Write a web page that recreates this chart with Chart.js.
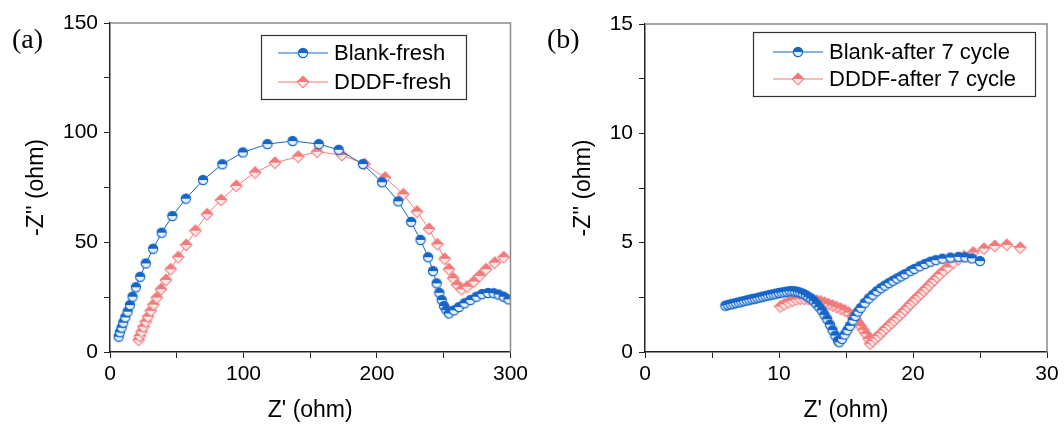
<!DOCTYPE html>
<html>
<head>
<meta charset="utf-8">
<script src="https://cdn.jsdelivr.net/npm/chart.js@4/dist/chart.umd.min.js"></script>
<style>
html, body { margin: 0; padding: 0; background: #fff; }
#wrap { position: relative; width: 1064px; height: 427px; }
canvas { position: absolute; top: 0; }
</style>
</head>
<body>
<div id="wrap">
    <canvas id="chartA" width="532" height="427" style="left:0;width:532px;height:427px"></canvas>
    <canvas id="chartB" width="532" height="427" style="left:532px;width:532px;height:427px"></canvas>
</div>
<script>
// dados painel (a) - fresh
const blankFreshX = [6.5, 7.4, 8.7, 9.9, 11.4, 13.2, 14.9, 16.9, 19.4, 22.6, 26.8, 32.3, 38.7, 46.7, 56.8, 69.7, 84.1, 99.5, 117.9, 136.8,
    156.4, 171.3, 189.4, 203.8, 215.9, 225.6, 232.6, 238.3, 242.0, 244.7, 246.7, 248.5, 250.2, 252.0, 253.9, 257.6, 261.4, 265.6, 270.0, 274.5,
    278.7, 283.2, 287.4, 291.1, 294.9, 298.5];
const blankFreshY = [7.0, 9.0, 11.1, 13.4, 15.8, 18.4, 21.4, 25.2, 29.5, 34.3, 40.4, 47.1, 54.4, 62.0, 69.9, 78.4, 85.6, 91.0, 94.8, 96.2,
    94.8, 92.2, 85.7, 77.4, 68.7, 59.3, 51.1, 43.2, 36.9, 31.3, 27.0, 23.7, 21.0, 19.2, 17.6, 19.0, 20.5, 22.2, 23.7, 25.2,
    26.4, 26.9, 26.8, 26.2, 25.2, 24.0];
const dddfFreshX = [21.4, 22.3, 23.6, 25.1, 26.8, 28.5, 30.5, 32.5, 35.0, 38.2, 41.9, 45.4, 51.1, 57.1, 64.0, 72.7, 83.2, 94.6, 108.7, 123.6,
    141.0, 155.1, 173.7, 190.6, 206.0, 219.7, 229.9, 239.0, 245.2, 250.7, 253.9, 257.1, 260.1, 263.4, 267.5, 272.5, 276.8, 281.7, 288.2, 294.9];
const dddfFreshY = [5.5, 7.3, 9.3, 11.5, 13.8, 16.1, 18.8, 21.6, 24.8, 28.6, 32.8, 37.7, 43.2, 48.8, 55.3, 62.8, 69.3, 75.7, 81.8, 86.3,
    89.1, 91.3, 89.8, 85.7, 79.5, 71.9, 64.0, 56.1, 49.1, 42.5, 37.7, 33.6, 30.6, 28.6, 29.8, 32.1, 34.7, 37.7, 40.7, 43.2];

// dados painel (b) - after 7 cycle
const blankCycleX = [6.0, 6.2, 6.4, 6.6, 6.8, 7.0, 7.2, 7.4, 7.6, 7.8, 8.0, 8.2, 8.4, 8.6, 8.8, 9.0, 9.2, 9.4, 9.6, 9.8, 10.0, 10.2, 10.4, 10.6, 10.8, 11.0,
    11.2, 11.4, 11.6, 11.8, 12.0, 12.2, 12.4, 12.6, 12.8, 13.0, 13.2, 13.4, 13.6, 13.8, 14.0, 14.2, 14.4, 14.5,
    14.7, 14.9, 15.1, 15.3, 15.5, 15.7, 15.9, 16.1, 16.4, 16.7, 17.0, 17.3, 17.6, 17.9, 18.2, 18.5, 18.8, 19.1, 19.4,
    19.8, 20.1, 20.5, 20.9, 21.3, 21.7, 22.2, 22.8, 23.4, 23.9, 24.4, 25.0];
const blankCycleY = [2.12, 2.15, 2.18, 2.21, 2.24, 2.27, 2.30, 2.33, 2.36, 2.39, 2.42, 2.44, 2.47, 2.50, 2.53, 2.56, 2.59, 2.62, 2.64, 2.67, 2.70, 2.72, 2.74, 2.76, 2.78, 2.78,
    2.77, 2.75, 2.71, 2.66, 2.60, 2.52, 2.44, 2.33, 2.20, 2.05, 1.90, 1.70, 1.50, 1.25, 1.00, 0.75, 0.52, 0.45,
    0.60, 0.80, 1.00, 1.20, 1.45, 1.65, 1.85, 2.02, 2.25, 2.45, 2.62, 2.78, 2.92, 3.04, 3.15, 3.26, 3.36, 3.46, 3.56,
    3.70, 3.80, 3.92, 4.03, 4.13, 4.20, 4.27, 4.32, 4.35, 4.33, 4.28, 4.16];
const dddfCycleX = [10.1, 10.4, 10.7, 11.0, 11.3, 11.6, 11.9, 12.2, 12.5, 12.8, 13.1, 13.4, 13.7, 14.0, 14.3, 14.6, 14.9, 15.2, 15.5,
    15.7, 15.9, 16.1, 16.3, 16.5, 16.7, 16.8,
    17.0, 17.2, 17.4, 17.6, 17.8, 18.0, 18.2, 18.4, 18.6, 18.8, 19.0, 19.2, 19.4, 19.6, 19.8, 20.0, 20.2, 20.4, 20.6, 20.8,
    21.0, 21.2, 21.4, 21.6, 21.8, 22.0, 22.3, 22.6, 23.0, 23.4, 23.8, 24.5, 25.3, 26.1, 27.0, 28.0];
const dddfCycleY = [2.08, 2.18, 2.27, 2.34, 2.40, 2.43, 2.43, 2.42, 2.39, 2.35, 2.31, 2.25, 2.18, 2.12, 2.05, 1.98, 1.90, 1.80, 1.65,
    1.50, 1.35, 1.18, 1.00, 0.82, 0.60, 0.38,
    0.50, 0.62, 0.73, 0.85, 0.98, 1.10, 1.22, 1.33, 1.44, 1.55, 1.68, 1.80, 1.93, 2.06, 2.19, 2.31, 2.43, 2.55, 2.67, 2.80,
    2.92, 3.05, 3.18, 3.30, 3.43, 3.55, 3.71, 3.87, 4.09, 4.25, 4.37, 4.55, 4.73, 4.85, 4.90, 4.77];

// ticks com rotulo
const xTicksA = [0, 100, 200, 300];
const yTicksA = [0, 50, 100, 150];
const xTicksB = [0, 10, 20, 30];
const yTicksB = [0, 5, 10, 15];

const azul = '#1666c8';
const vermelho = '#f07b7b';
const fonte = "'Liberation Sans', Arial, sans-serif";

function pontos(xs, ys) {
    return xs.map((x, i) => ({ x: x, y: ys[i] }));
}

// marcador meio cheio (circulo)
function bolinha(cor, fundo) {
    const c = document.createElement('canvas');
    c.width = 12; c.height = 12;
    const g = c.getContext('2d');
    g.fillStyle = fundo;
    g.beginPath(); g.arc(6, 6, 4.6, 0, Math.PI * 2); g.fill();
    g.fillStyle = cor;
    g.beginPath(); g.arc(6, 6, 4.6, Math.PI, Math.PI * 2); g.closePath(); g.fill();
    g.strokeStyle = cor; g.lineWidth = 1.2;
    g.beginPath(); g.arc(6, 6, 4.6, 0, Math.PI * 2); g.stroke();
    return c;
}

// marcador meio cheio (losango)
function losango(cor, fundo) {
    const c = document.createElement('canvas');
    c.width = 14; c.height = 14;
    const g = c.getContext('2d');
    g.beginPath();
    g.moveTo(7, 1.2); g.lineTo(12.8, 7); g.lineTo(7, 12.8); g.lineTo(1.2, 7); g.closePath();
    g.fillStyle = fundo; g.fill();
    g.beginPath();
    g.moveTo(7, 1.2); g.lineTo(12.8, 7); g.lineTo(1.2, 7); g.closePath();
    g.fillStyle = cor; g.fill();
    g.beginPath();
    g.moveTo(7, 1.2); g.lineTo(12.8, 7); g.lineTo(7, 12.8); g.lineTo(1.2, 7); g.closePath();
    g.strokeStyle = cor; g.lineWidth = 1.1; g.stroke();
    return c;
}

const marcaAzul = bolinha(azul, '#e6effa');
const marcaVermelha = losango(vermelho, '#fdeaea');

// moldura, rotulo do painel e legenda
function painelPlugin(nome, rotulo, rotX, caixa, itens) {
    return {
        id: nome,
        afterDraw(chart) {
            const ctx = chart.ctx;
            const a = chart.chartArea;
            ctx.save();
            ctx.strokeStyle = '#8a8a8a';
            ctx.lineWidth = 1.5;
            ctx.beginPath();
            ctx.moveTo(a.left, a.top);
            ctx.lineTo(a.right, a.top);
            ctx.lineTo(a.right, a.bottom);
            ctx.stroke();

            ctx.fillStyle = '#000';
            ctx.font = "28px 'Liberation Serif', 'Times New Roman', serif";
            ctx.textBaseline = 'alphabetic';
            ctx.textAlign = 'left';
            ctx.fillText(rotulo, rotX, 48);

            ctx.strokeStyle = '#333';
            ctx.lineWidth = 1.2;
            ctx.strokeRect(caixa.x + 0.5, caixa.y + 0.5, caixa.w, caixa.h);

            ctx.font = '22px ' + fonte;
            ctx.textBaseline = 'middle';
            itens.forEach(it => {
                ctx.strokeStyle = it.cor;
                ctx.lineWidth = 1;
                ctx.beginPath();
                ctx.moveTo(caixa.lx, it.y);
                ctx.lineTo(caixa.lx + 50, it.y);
                ctx.stroke();
                const m = it.marca;
                ctx.drawImage(m, caixa.lx + 25 - m.width / 2, it.y - m.height / 2);
                ctx.fillStyle = '#000';
                ctx.fillText(it.texto, caixa.lx + 56, it.y + 1);
            });
            ctx.restore();
        }
    };
}

function eixos(xMax, xStep, xLab, yMax, yStep, yLab, yWidth, yTitlePad) {
    return {
        x: {
            type: 'linear', min: 0, max: xMax,
            ticks: {
                stepSize: xStep, autoSkip: false, maxRotation: 0, color: '#000', padding: 4,
                font: { size: 21, family: fonte },
                callback: v => xLab.includes(v) ? v : ''
            },
            grid: { drawOnChartArea: false, tickLength: 6, color: '#222' },
            border: { color: '#222', width: 1.5 },
            title: {
                display: true, text: "Z' (ohm)", color: '#000',
                font: { size: 23, family: fonte },
                padding: { top: 0, bottom: 3 }
            },
            afterFit: s => { s.height = 75; }
        },
        y: {
            type: 'linear', min: 0, max: yMax,
            ticks: {
                stepSize: yStep, autoSkip: false, color: '#000', padding: 6,
                font: { size: 21, family: fonte },
                callback: v => yLab.includes(v) ? v : ''
            },
            grid: { drawOnChartArea: false, tickLength: 6, color: '#222' },
            border: { color: '#222', width: 1.5 },
            title: {
                display: true, text: "-Z'' (ohm)", color: '#000',
                font: { size: 23, family: fonte },
                padding: { top: yTitlePad, bottom: 0 }
            },
            afterFit: s => { s.width = yWidth; }
        }
    };
}

function serie(rotulo, dados, cor, marca) {
    return {
        label: rotulo,
        data: dados,
        showLine: true,
        borderColor: cor,
        borderWidth: 1,
        backgroundColor: cor,
        pointStyle: marca,
        pointRadius: 5,
        tension: 0
    };
}

// painel (a)
const configA = {
    type: 'scatter',
    data: {
        datasets: [
            serie('Blank-fresh', pontos(blankFreshX, blankFreshY), azul, marcaAzul),
            serie('DDDF-fresh', pontos(dddfFreshX, dddfFreshY), vermelho, marcaVermelha)
        ]
    },
    options: {
        responsive: false,
        animation: false,
        layout: { padding: { left: 0, right: 20, top: 23, bottom: 0 } },
        scales: eixos(300, 50, xTicksA, 150, 25, yTicksA, 110, 23),
        plugins: { legend: { display: false }, tooltip: { enabled: false } }
    },
    plugins: [painelPlugin('painelA', '(a)', 12, { x: 261, y: 35, w: 205, h: 64, lx: 278 }, [
        { y: 53, cor: azul, marca: marcaAzul, texto: 'Blank-fresh' },
        { y: 82, cor: vermelho, marca: marcaVermelha, texto: 'DDDF-fresh' }
    ])]
};
new Chart(document.getElementById('chartA').getContext('2d'), configA);

// painel (b)
const configB = {
    type: 'scatter',
    data: {
        datasets: [
            serie('Blank-after 7 cycle', pontos(blankCycleX, blankCycleY), azul, marcaAzul),
            serie('DDDF-after 7 cycle', pontos(dddfCycleX, dddfCycleY), vermelho, marcaVermelha)
        ]
    },
    options: {
        responsive: false,
        animation: false,
        layout: { padding: { left: 0, right: 17, top: 24, bottom: 0 } },
        scales: eixos(30, 5, xTicksB, 15, 2.5, yTicksB, 113, 38),
        plugins: { legend: { display: false }, tooltip: { enabled: false } }
    },
    plugins: [painelPlugin('painelB', '(b)', 15, { x: 221, y: 32, w: 282, h: 64, lx: 241 }, [
        { y: 52, cor: azul, marca: marcaAzul, texto: 'Blank-after 7 cycle' },
        { y: 79, cor: vermelho, marca: marcaVermelha, texto: 'DDDF-after 7 cycle' }
    ])]
};
new Chart(document.getElementById('chartB').getContext('2d'), configB);
</script>
</body>
</html>
